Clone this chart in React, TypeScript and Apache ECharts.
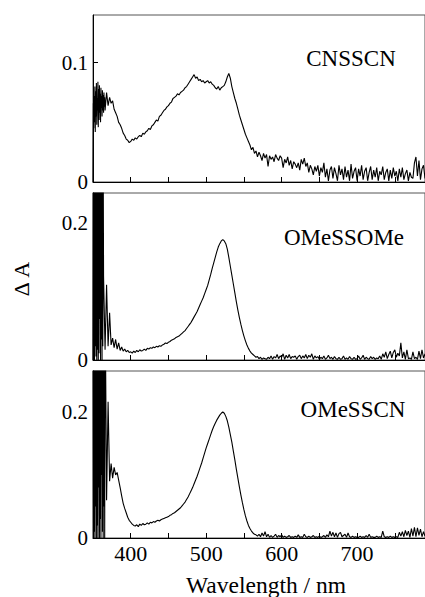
import React, { useEffect, useRef } from "react";
import * as echarts from "echarts";

// Panel labels
const panelNames = ["CNSSCN", "OMeSSOMe", "OMeSSCN"];

// Axis ticks
const xTickValues = [400, 450, 500, 550, 600, 650, 700, 750];
const xLabelValues = [400, 500, 600, 700];
const yLabelsTop = [0, 0.1];
const yLabelsMid = [0, 0.2];
const yLabelsBot = [0, 0.2];
const yMaxes = [0.14, 0.244, 0.265];

// Noisy onset near 350 nm, sampled every 0.5 nm
const leadStep = 0.5;
const cnsscnLead = [
  0.000, 0.066, 0.045, 0.072, 0.050, 0.080, 0.042, 0.076, 0.055, 0.083,
  0.048, 0.070, 0.060, 0.084, 0.046, 0.078, 0.052, 0.081, 0.058, 0.074,
  0.050, 0.079, 0.062, 0.072, 0.055, 0.077, 0.060, 0.073, 0.058, 0.075,
  0.063, 0.071,
];
const omessomeLead = [
  0.000, 0.400, 0.010, 0.400, 0.000, 0.400, 0.020, 0.400, 0.005, 0.400,
  0.000, 0.400, 0.015, 0.400, 0.000, 0.400, 0.010, 0.400, 0.060, 0.400,
  0.000, 0.400, 0.030, 0.400, 0.000, 0.400, 0.020, 0.300,
];
const omesscnLead = [
  0.400, 0.000, 0.400, 0.010, 0.400, 0.000, 0.400, 0.050, 0.400, 0.000,
  0.400, 0.020, 0.400, 0.000, 0.400, 0.080, 0.400, 0.000, 0.400, 0.030,
  0.400, 0.000, 0.400, 0.100, 0.400, 0.010, 0.400, 0.000, 0.400, 0.050,
  0.400, 0.000,
];

// Main spectra, sampled every 2 nm
const mainStep = 2;
const cnsscnStart = 366;
const cnsscn = [
  0.060, 0.075,
  0.064, 0.071, 0.066, 0.068, 0.061, 0.058, 0.055, 0.050, 0.048, 0.045,
  0.041, 0.039, 0.036, 0.035, 0.033, 0.034, 0.036, 0.035, 0.037, 0.036,
  0.038, 0.039, 0.038, 0.041, 0.040, 0.042, 0.043, 0.045, 0.044, 0.047,
  0.048, 0.050, 0.052, 0.051, 0.055, 0.056, 0.058, 0.060, 0.061, 0.063,
  0.064, 0.066, 0.067, 0.070, 0.071, 0.072, 0.074, 0.073, 0.075, 0.076,
  0.077, 0.079, 0.080, 0.082, 0.084, 0.086, 0.088, 0.090, 0.087, 0.088,
  0.085, 0.086, 0.084, 0.085, 0.083, 0.084, 0.085, 0.083, 0.084, 0.082,
  0.081, 0.079, 0.078, 0.080, 0.077, 0.079, 0.080, 0.081, 0.084, 0.088,
  0.091, 0.087, 0.080, 0.075, 0.070, 0.066, 0.061, 0.056, 0.052, 0.048,
  0.044, 0.040, 0.037, 0.034, 0.031, 0.027, 0.029, 0.024, 0.026, 0.021,
  0.025, 0.022, 0.018, 0.024, 0.020, 0.023, 0.013, 0.022, 0.019, 0.021,
  0.017, 0.023, 0.020, 0.018, 0.022, 0.020, 0.012, 0.019, 0.016, 0.021,
  0.014, 0.018, 0.011, 0.017, 0.015, 0.012, 0.016, 0.010, 0.019, 0.015,
  0.020, 0.013, 0.016, 0.008, 0.014, 0.011, 0.006, 0.013, 0.009, 0.014,
  0.005, 0.012, 0.008, 0.016, 0.004, 0.011, 0.001, 0.010, 0.013, 0.003,
  0.012, 0.007, 0.001, 0.014, 0.006, 0.011, 0.002, 0.013, 0.004, 0.010,
  0.001, 0.015, 0.003, 0.009, 0.012, 0.001, 0.011, 0.005, 0.014, 0.002,
  0.009, 0.012, 0.001, 0.008, 0.013, 0.002, 0.010, 0.004, 0.012, 0.001,
  0.009, 0.006, 0.013, 0.002, 0.008, 0.011, 0.001, 0.010, 0.003, 0.012,
  0.005, 0.009, 0.001, 0.011, 0.004, 0.012, 0.002, 0.007, 0.010, 0.001,
  0.008, 0.004, 0.003, 0.016, 0.021, 0.005, 0.018, 0.002, 0.011, 0.014,
  0.003,
];

const omessomeStart = 364;
const omessome = [
  0.122, 0.015, 0.110,
  0.020, 0.069, 0.022, 0.032, 0.018, 0.030, 0.016, 0.025, 0.014, 0.019,
  0.013, 0.016, 0.012, 0.014, 0.011, 0.012, 0.010, 0.013, 0.011, 0.014,
  0.012, 0.015, 0.013, 0.014, 0.016, 0.014, 0.017, 0.016, 0.018, 0.017,
  0.019, 0.018, 0.020, 0.019, 0.021, 0.020, 0.022, 0.023, 0.025, 0.024,
  0.026, 0.027, 0.029, 0.030, 0.031, 0.033, 0.034, 0.035, 0.037, 0.039,
  0.041, 0.043, 0.046, 0.049, 0.052, 0.055, 0.059, 0.063, 0.067, 0.071,
  0.076, 0.081, 0.086, 0.091, 0.097, 0.103, 0.109, 0.117, 0.125, 0.134,
  0.142, 0.150, 0.158, 0.165, 0.170, 0.174, 0.176, 0.174, 0.170, 0.162,
  0.150, 0.137, 0.124, 0.111, 0.098, 0.085, 0.073, 0.062, 0.052, 0.043,
  0.035, 0.028, 0.022, 0.017, 0.013, 0.010, 0.008, 0.006, 0.004, 0.005,
  0.002, 0.004, 0.001, 0.003, 0.002, 0.001, 0.004, 0.002, 0.006, 0.001,
  0.005, 0.003, 0.008, 0.002, 0.006, 0.004, 0.009, 0.001, 0.007, 0.003,
  0.008, 0.002, 0.005, 0.004, 0.006, 0.001, 0.005, 0.007, 0.002, 0.006,
  0.003, 0.008, 0.002, 0.007, 0.004, 0.009, 0.001, 0.006, 0.003, 0.005,
  0.001, 0.004, 0.002, 0.006, 0.001, 0.003, 0.007, 0.002, 0.004, 0.001,
  0.005, 0.002, 0.001, 0.004, 0.001, 0.002, 0.006, 0.001, 0.003, 0.001,
  0.005, 0.002, 0.001, 0.004, 0.001, 0.002, 0.006, 0.001, 0.003, 0.007,
  0.001, 0.004, 0.002, 0.001, 0.005, 0.002, 0.004, 0.001, 0.003, 0.002,
  0.006, 0.001, 0.009, 0.004, 0.012, 0.002, 0.008, 0.013, 0.003, 0.011,
  0.015, 0.004, 0.010, 0.006, 0.025, 0.003, 0.012, 0.001, 0.015, 0.002,
  0.003, 0.001, 0.012, 0.002, 0.004, 0.001, 0.013, 0.002, 0.015, 0.003,
  0.009,
];

const omesscnStart = 366;
const omesscn = [
  0.400, 0.060,
  0.216, 0.090, 0.118, 0.095, 0.112, 0.100, 0.104, 0.092, 0.080, 0.067,
  0.055, 0.047, 0.040, 0.033, 0.028, 0.025, 0.022, 0.020, 0.019, 0.021,
  0.018, 0.022, 0.020, 0.023, 0.021, 0.022, 0.024, 0.022, 0.025, 0.024,
  0.026, 0.025, 0.027, 0.028, 0.027, 0.029, 0.030, 0.031, 0.032, 0.033,
  0.034, 0.036, 0.037, 0.039, 0.040, 0.042, 0.044, 0.046, 0.048, 0.051,
  0.054, 0.057, 0.061, 0.065, 0.070, 0.075, 0.080, 0.086, 0.092, 0.098,
  0.105, 0.112, 0.119, 0.127, 0.135, 0.143, 0.150, 0.157, 0.164, 0.171,
  0.177, 0.182, 0.187, 0.191, 0.195, 0.198, 0.200, 0.198, 0.193, 0.186,
  0.176, 0.164, 0.152, 0.138, 0.124, 0.109, 0.095, 0.081, 0.068, 0.056,
  0.045, 0.035, 0.027, 0.020, 0.015, 0.011, 0.008, 0.006, 0.005, 0.003,
  0.006, 0.002, 0.008, 0.003, 0.010, 0.002, 0.006, 0.001, 0.004, 0.001,
  0.003, 0.006, 0.001, 0.004, 0.002, 0.005, 0.001, 0.003, 0.001, 0.002,
  0.004, 0.001, 0.002, 0.001, 0.003, 0.001, 0.005, 0.001, 0.002, 0.001,
  0.006, 0.002, 0.001, 0.003, 0.001, 0.002, 0.004, 0.001, 0.002, 0.001,
  0.003, 0.001, 0.002, 0.004, 0.001, 0.005, 0.002, 0.011, 0.003, 0.009,
  0.002, 0.008, 0.001, 0.007, 0.009, 0.002, 0.004, 0.006, 0.001, 0.008,
  0.002, 0.001, 0.003, 0.001, 0.002, 0.001, 0.001, 0.003, 0.001, 0.002,
  0.001, 0.004, 0.001, 0.006, 0.001, 0.002, 0.001, 0.001, 0.003, 0.001,
  0.002, 0.001, 0.011, 0.002, 0.001, 0.002, 0.001, 0.003, 0.001, 0.002,
  0.001, 0.002, 0.001, 0.009, 0.003, 0.010, 0.002, 0.012, 0.004, 0.011,
  0.001, 0.015, 0.003, 0.017, 0.002, 0.016, 0.004, 0.014, 0.002, 0.010,
  0.003,
];

const leadStart = 350;
const FONT = "Liberation Serif";

function toPairs(start: number, step: number, values: number[]): [number, number][] {
  return values.map((v, i) => [start + i * step, v]);
}

export default function App() {
  const ref = useRef<HTMLDivElement>(null);

  useEffect(() => {
    if (!ref.current) return;
    const chart = echarts.init(ref.current, undefined, { renderer: "svg" });

    const panels = [
      {
        data: toPairs(leadStart, leadStep, cnsscnLead).concat(toPairs(cnsscnStart, mainStep, cnsscn)),
        yMax: yMaxes[0], yLabels: yLabelsTop, top: 15,
      },
      {
        data: toPairs(leadStart, leadStep, omessomeLead).concat(toPairs(omessomeStart, mainStep, omessome)),
        yMax: yMaxes[1], yLabels: yLabelsMid, top: 193,
      },
      {
        data: toPairs(leadStart, leadStep, omesscnLead).concat(toPairs(omesscnStart, mainStep, omesscn)),
        yMax: yMaxes[2], yLabels: yLabelsBot, top: 371,
      },
    ];

    const grid = panels.map((p) => ({
      left: 93,
      top: p.top,
      width: 334,
      height: 167,
      show: true,
      borderColor: "#555",
      borderWidth: 1,
      backgroundColor: "transparent",
    }));

    const xAxis = panels.map((_, i) => ({
      type: "value",
      gridIndex: i,
      min: 350,
      max: 790,
      axisLine: { show: true, onZero: false, lineStyle: { color: "#000", width: 1 } },
      axisTick: {
        show: true,
        inside: true,
        length: 5,
        customValues: xTickValues,
        lineStyle: { color: "#000", width: 1 },
      },
      axisLabel: {
        show: i === 2,
        customValues: xLabelValues,
        color: "#000",
        fontFamily: FONT,
        fontSize: 22,
        margin: 4,
      },
      splitLine: { show: false },
    }));

    const yAxis = panels.map((p, i) => ({
      type: "value",
      gridIndex: i,
      min: 0,
      max: p.yMax,
      axisLine: { show: true, onZero: false, lineStyle: { color: "#000", width: 1 } },
      axisTick: {
        show: true,
        inside: true,
        length: 5,
        customValues: p.yLabels,
        lineStyle: { color: "#000", width: 1 },
      },
      axisLabel: {
        customValues: p.yLabels,
        color: "#000",
        fontFamily: FONT,
        fontSize: 21,
        margin: 5,
        formatter: (v: number) => String(v),
      },
      splitLine: { show: false },
    }));

    const series = panels.map((p, i) => ({
      type: "line",
      xAxisIndex: i,
      yAxisIndex: i,
      data: p.data,
      showSymbol: false,
      symbol: "none",
      clip: true,
      silent: true,
      lineStyle: { color: "#000", width: 1.1 },
    }));

    const labelPos = [
      { x: 351, y: 58 },
      { x: 344, y: 237 },
      { x: 353, y: 409 },
    ];

    const textStyle = {
      fill: "#000",
      fontFamily: FONT,
      fontSize: 23,
      align: "center",
      verticalAlign: "middle",
    };

    const graphic: any[] = panelNames.map((name, i) => ({
      type: "text",
      x: labelPos[i].x,
      y: labelPos[i].y,
      style: { ...textStyle, text: name },
    }));
    graphic.push({
      type: "text",
      x: 21,
      y: 279,
      rotation: Math.PI / 2,
      style: { ...textStyle, fontSize: 22, text: "Δ A" },
    });
    graphic.push({
      type: "text",
      x: 266,
      y: 585,
      style: { ...textStyle, fontSize: 23.5, text: "Wavelength / nm" },
    });

    chart.setOption({
      animation: false,
      backgroundColor: "#fff",
      grid,
      xAxis,
      yAxis,
      series,
      graphic,
    } as any);

    return () => chart.dispose();
  }, []);

  return (
    <div
      ref={ref}
      style={{ position: "fixed", left: 0, top: 0, width: 425, height: 597 }}
    />
  );
}
